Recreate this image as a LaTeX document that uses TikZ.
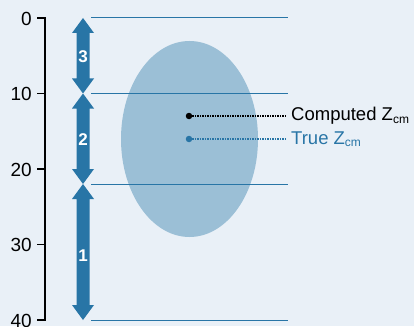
\documentclass[tikz,border=0pt]{standalone}
\usepackage{fontspec}
\setmainfont{Liberation Sans}
\definecolor{bg}{RGB}{233,240,247}
\definecolor{steel}{RGB}{40,117,166}
\definecolor{ell}{RGB}{155,191,214}
\newcommand\subcm{\raisebox{-2.5pt}{\fontsize{12}{12}\selectfont cm}}
\newcommand\dblarrow[2]{%
  \fill[steel] (83,#1) -- (94,#1+15) -- (89.5,#1+15) -- (89.5,#2-15) -- (94,#2-15)
    -- (83,#2) -- (72,#2-15) -- (76.5,#2-15) -- (76.5,#1+15) -- (72,#1+15) -- cycle;}
\tikzset{
  ticklabel/.style={anchor=east,inner sep=0pt,font=\fontsize{19}{19}\selectfont},
  arrlabel/.style={text=white,inner sep=0pt,font=\bfseries\fontsize{17}{17}\selectfont},
  level/.style={steel,line width=1pt},
  lbl/.style={anchor=west,inner sep=0pt,font=\fontsize{18.5}{18.5}\selectfont},
  dotline/.style={line width=1.2pt,dash pattern=on 1.2pt off 1.3pt,shorten >=4pt},
  cdot/.style={circle,fill,inner sep=0pt,minimum size=6.5pt}
}
\begin{document}
\begin{tikzpicture}[x=1pt,y=-1pt]
\fill[bg] (0,0) rectangle (414,326);
\useasboundingbox (0,0) rectangle (414,326);
% axis
\draw[line width=1.5pt] (45,17.5) -- (45,320.5);
\foreach \v/\yy in {0/18,10/93.5,20/169,30/244.5,40/320}{
  \draw[line width=1.5pt] (37,\yy) -- (45.7,\yy);
  \node[ticklabel] (t\v) at (32,\yy+0.5) {\v};
}
% ellipse
\fill[ell] (189.5,139) ellipse [x radius=68.5, y radius=98];
% level lines
\foreach \yy in {18,93.5,184,320}{
  \draw[level] (91,\yy) -- (288,\yy);
}
% double arrows
\dblarrow{18}{93.5}
\dblarrow{93.5}{184}
\dblarrow{184}{320}
\node[arrlabel] (n3) at (83,57) {3};
\node[arrlabel] (n2) at (83,140) {2};
\node[arrlabel] (n1) at (83,256) {1};
% centres of mass
\node[cdot,black] (cc) at (189,116) {};
\node[cdot,steel] (tc) at (189,139) {};
\node[lbl] (cl) at (291,116) {Computed Z\subcm};
\node[lbl,text=steel] (tl) at (291,139) {True Z\subcm};
\draw[dotline,black] (cc) -- (cl.west);
\draw[dotline,steel] (tc) -- (tl.west);
\end{tikzpicture}
\end{document}
